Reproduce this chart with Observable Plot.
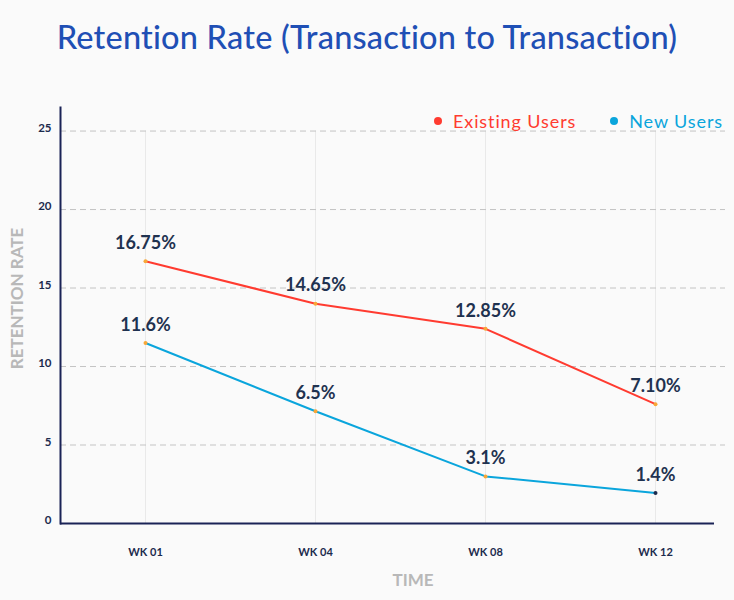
<!DOCTYPE html>
<html>
<head>
<meta charset="utf-8">
<script src="https://cdn.jsdelivr.net/npm/d3@7"></script>
<script src="https://cdn.jsdelivr.net/npm/@observablehq/plot@0.6"></script>
<style>
  html, body { margin: 0; padding: 0; background: #fafafa; }
  #wrap { position: relative; width: 734px; height: 600px; font-family: Lato, "Open Sans", sans-serif; }
  #title { height: 80px; line-height: 74px; text-align: center; font-size: 32.5px; font-weight: 500; color: #1f4fb5; letter-spacing: 0.2px; }
  #legend { position: absolute; top: 110px; right: 11px; display: flex; gap: 34px; font-size: 18px; letter-spacing: 0.9px; }
  #legend span.dot { display: inline-block; width: 8px; height: 8px; border-radius: 50%; margin-right: 11px; vertical-align: middle; position: relative; top: -2px; }
</style>
</head>
<body>
<div id="wrap">
  <div id="title">Retention Rate (Transaction to Transaction)</div>
  <div id="chart"></div>
  <div id="legend"></div>
</div>
<script>
const weeks = ["WK 01", "WK 04", "WK 08", "WK 12"];
const seriesNames = ["Existing Users", "New Users"];
const seriesColors = ["#ff3b30", "#0aa5dc"];
// plotted positions
const existingValues = [16.7, 14.0, 12.4, 7.6];
const newValues = [11.5, 7.15, 3.0, 1.95];
// value labels as printed
const existingLabels = ["16.75%", "14.65%", "12.85%", "7.10%"];
const newLabels = ["11.6%", "6.5%", "3.1%", "1.4%"];
const yTicks = [0, 5, 10, 15, 20, 25];

const navy = "#1c2b4d";
const rows = [];
weeks.forEach((w, i) => {
  rows.push({week: w, series: seriesNames[0], value: existingValues[i], label: existingLabels[i], idx: i});
  rows.push({week: w, series: seriesNames[1], value: newValues[i], label: newLabels[i], idx: i});
});

const plot = Plot.plot({
  width: 734,
  height: 520,
  marginLeft: 60,
  marginRight: 9,
  marginTop: 27,
  marginBottom: 77,
  style: {background: "transparent", fontFamily: "Lato, 'Open Sans', sans-serif"},
  x: {type: "point", domain: weeks, range: [145, 655], padding: 0},
  y: {domain: [0, 26.5]},
  color: {domain: seriesNames, range: seriesColors},
  marks: [
    Plot.ruleX(weeks, {x: d => d, y1: 0, y2: 25, stroke: "#e9e9e9", strokeWidth: 1}),
    Plot.ruleY(yTicks.filter(t => t > 0), {y: d => d, stroke: "#c4c4c4", strokeWidth: 1, strokeDasharray: "6,4"}),
    Plot.axisY({ticks: yTicks, tickSize: 0, tickPadding: 9, fontSize: 11.5, fontWeight: 700, fill: navy, dy: -3, label: null}),
    Plot.axisX({tickSize: 0, tickPadding: 25, fontSize: 11, fontWeight: 700, fill: navy, label: null}),
    Plot.text(["RETENTION RATE"], {frameAnchor: "left", textAnchor: "middle", rotate: -90, dx: -43, dy: -17, fontSize: 17, fontWeight: 700, fill: "#b8b8b8", letterSpacing: 2.2}),
    Plot.text(["TIME"], {frameAnchor: "bottom", dx: 20, dy: 62, fontSize: 17, fontWeight: 700, fill: "#b8b8b8", letterSpacing: 1.2}),
    Plot.ruleY([0], {stroke: "#1a2356", strokeWidth: 2, insetRight: 11}),
    Plot.frame({anchor: "left", stroke: "#1a2356", strokeWidth: 2}),
    Plot.line(rows, {x: "week", y: "value", z: "series", stroke: "series", strokeWidth: 2}),
    Plot.dot(rows, {x: "week", y: "value", r: 2, fill: d => (d.series === "New Users" && d.idx === weeks.length - 1) ? navy : "#f7a738"}),
    Plot.text(rows, {x: "week", y: "value", text: "label", dy: -18, fontSize: 18, fontWeight: 700, fill: "#1f3250"})
  ]
});
document.getElementById("chart").appendChild(plot);

const legend = document.getElementById("legend");
seriesNames.forEach((s, i) => {
  const item = document.createElement("div");
  item.style.color = seriesColors[i];
  item.innerHTML = `<span class="dot" style="background:${seriesColors[i]}"></span>${s}`;
  legend.appendChild(item);
});
</script>
</body>
</html>
